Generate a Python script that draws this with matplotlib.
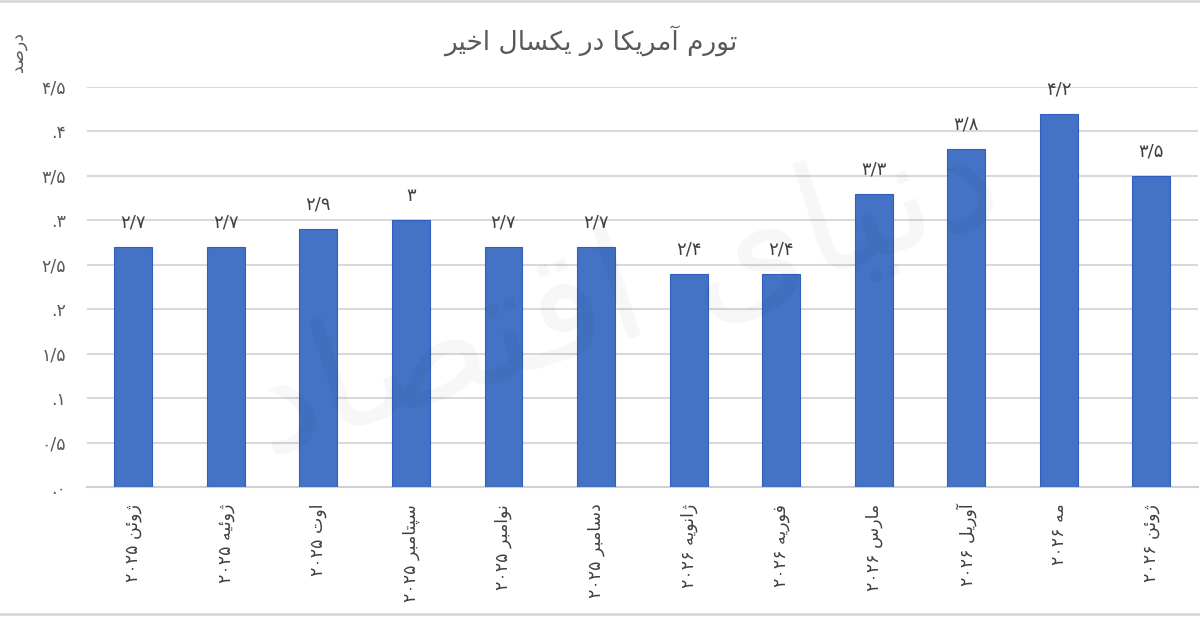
"""
Bar chart: US inflation over the last year (Persian labels).
"""

import matplotlib

matplotlib.use("Agg")
import matplotlib.pyplot as plt
import numpy as np
from matplotlib.lines import Line2D

plt.rcParams["font.family"] = ["DejaVu Sans"]

# ---------------------------------------------------------------------------
# Data
# ---------------------------------------------------------------------------

TITLE = "تورم آمریکا در یکسال اخیر"
Y_LABEL = "درصد"
WATERMARK = "دنیای اقتصاد"

MONTHS = [
    "ژوئن ۲۰۲۵", "ژوئیه ۲۰۲۵", "اوت ۲۰۲۵", "سپتامبر ۲۰۲۵",
    "نوامبر ۲۰۲۵", "دسامبر ۲۰۲۵", "ژانویه ۲۰۲۶", "فوریه ۲۰۲۶",
    "مارس ۲۰۲۶", "آوریل ۲۰۲۶", "مه ۲۰۲۶", "ژوئن ۲۰۲۶",
]
INFLATION = [2.7, 2.7, 2.9, 3.0, 2.7, 2.7, 2.4, 2.4, 3.3, 3.8, 4.2, 3.5]
VALUE_LABELS = ["۲/۷", "۲/۷", "۲/۹", "۳", "۲/۷", "۲/۷", "۲/۴", "۲/۴",
                "۳/۳", "۳/۸", "۴/۲", "۳/۵"]

Y_TICKS = [0, 0.5, 1, 1.5, 2, 2.5, 3, 3.5, 4, 4.5]
Y_TICK_LABELS = [".۰", "۰/۵", ".۱", "۱/۵", ".۲", "۲/۵", ".۳", "۳/۵", ".۴", "۴/۵"]

BAR_COLOR = "#4472C4"
GRID_COLOR = "#d9d9d9"
TEXT_COLOR = "#595959"

# ---------------------------------------------------------------------------
# Minimal Persian shaping (matplotlib has no complex text layout)
# isolated, final, initial, medial
# ---------------------------------------------------------------------------

FORMS = {
    "ا": ("\uFE8D", "\uFE8E", None, None),
    "آ": ("\uFE81", "\uFE82", None, None),
    "ب": ("\uFE8F", "\uFE90", "\uFE91", "\uFE92"),
    "پ": ("\uFB56", "\uFB57", "\uFB58", "\uFB59"),
    "ت": ("\uFE95", "\uFE96", "\uFE97", "\uFE98"),
    "خ": ("\uFEA5", "\uFEA6", "\uFEA7", "\uFEA8"),
    "د": ("\uFEA9", "\uFEAA", None, None),
    "ر": ("\uFEAD", "\uFEAE", None, None),
    "ز": ("\uFEAF", "\uFEB0", None, None),
    "ژ": ("\uFB8A", "\uFB8B", None, None),
    "س": ("\uFEB1", "\uFEB2", "\uFEB3", "\uFEB4"),
    "ص": ("\uFEB9", "\uFEBA", "\uFEBB", "\uFEBC"),
    "ف": ("\uFED1", "\uFED2", "\uFED3", "\uFED4"),
    "ق": ("\uFED5", "\uFED6", "\uFED7", "\uFED8"),
    "ک": ("\uFB8E", "\uFB8F", "\uFB90", "\uFB91"),
    "ل": ("\uFEDD", "\uFEDE", "\uFEDF", "\uFEE0"),
    "م": ("\uFEE1", "\uFEE2", "\uFEE3", "\uFEE4"),
    "ن": ("\uFEE5", "\uFEE6", "\uFEE7", "\uFEE8"),
    "ه": ("\uFEE9", "\uFEEA", "\uFEEB", "\uFEEC"),
    "و": ("\uFEED", "\uFEEE", None, None),
    "ئ": ("\uFE89", "\uFE8A", "\uFE8B", "\uFE8C"),
    "ی": ("\uFBFC", "\uFBFD", "\uFBFE", "\uFBFF"),
}


def shape_word(word):
    out = []
    for i, ch in enumerate(word):
        if ch not in FORMS:
            out.append(ch)
            continue
        prev = word[i - 1] if i > 0 else None
        nxt = word[i + 1] if i + 1 < len(word) else None
        joins_prev = prev in FORMS and FORMS[prev][2] is not None
        joins_next = nxt in FORMS and FORMS[ch][2] is not None
        isol, fina, init, medi = FORMS[ch]
        if joins_prev and joins_next:
            out.append(medi)
        elif joins_prev:
            out.append(fina)
        elif joins_next:
            out.append(init)
        else:
            out.append(isol)
    return "".join(reversed(out))


def rtl(text):
    tokens = text.split(" ")
    visual = []
    for tok in reversed(tokens):
        if any(c in FORMS for c in tok):
            visual.append(shape_word(tok))
        else:
            visual.append(tok)
    return " ".join(visual)


# ---------------------------------------------------------------------------
# Figure
# ---------------------------------------------------------------------------

fig = plt.figure(figsize=(12, 6.17), dpi=100)
ax = fig.add_axes([0.0725, 0.2107, 0.9255, 0.6483])

x = np.arange(len(MONTHS))
bars = ax.bar(x, INFLATION, width=0.41, color=BAR_COLOR,
              edgecolor="#2f5fbf", linewidth=0.8, zorder=3)

for xi, val, lab in zip(x, INFLATION, VALUE_LABELS):
    ax.annotate(lab, (xi, val), xytext=(0, 11), textcoords="offset points",
                ha="center", va="bottom", fontsize=13, color="#404040", zorder=4)

ax.set_xlim(-0.5, len(MONTHS) - 0.5)
ax.set_ylim(0, 4.5)
ax.set_yticks(Y_TICKS)
ax.set_yticklabels(Y_TICK_LABELS, fontsize=12.5, color=TEXT_COLOR)
ax.set_xticks(x)
ax.set_xticklabels([rtl(m) for m in MONTHS], rotation=90, fontsize=12.5,
                   color="#404040")
ax.tick_params(axis="y", length=0, pad=15)
ax.tick_params(axis="x", length=0, pad=12)

ax.grid(axis="y", color=GRID_COLOR, linewidth=1.5, zorder=0)
ax.set_axisbelow(True)
for side in ("top", "right", "left"):
    ax.spines[side].set_visible(False)
ax.spines["bottom"].set_color("#d0d0d0")
ax.spines["bottom"].set_linewidth(1.5)

fig.text(0.492, 0.935, rtl(TITLE), ha="center", va="center",
         fontsize=19, color=TEXT_COLOR)
fig.text(0.015, 0.915, rtl(Y_LABEL), ha="center", va="center",
         rotation=90, fontsize=12.5, color=TEXT_COLOR)

# faint watermark
fig.text(0.52, 0.52, rtl(WATERMARK), ha="center", va="center",
         rotation=18, fontsize=110, color="black",
         alpha=0.035, zorder=10)

# outer frame lines of the chart area
fig.add_artist(Line2D([0, 1], [0.998, 0.998], color="#d9d9d9", lw=2,
                      transform=fig.transFigure))
fig.add_artist(Line2D([0, 1], [0.005, 0.005], color="#d9d9d9", lw=2,
                      transform=fig.transFigure))

fig.savefig("out.png", dpi=100)
